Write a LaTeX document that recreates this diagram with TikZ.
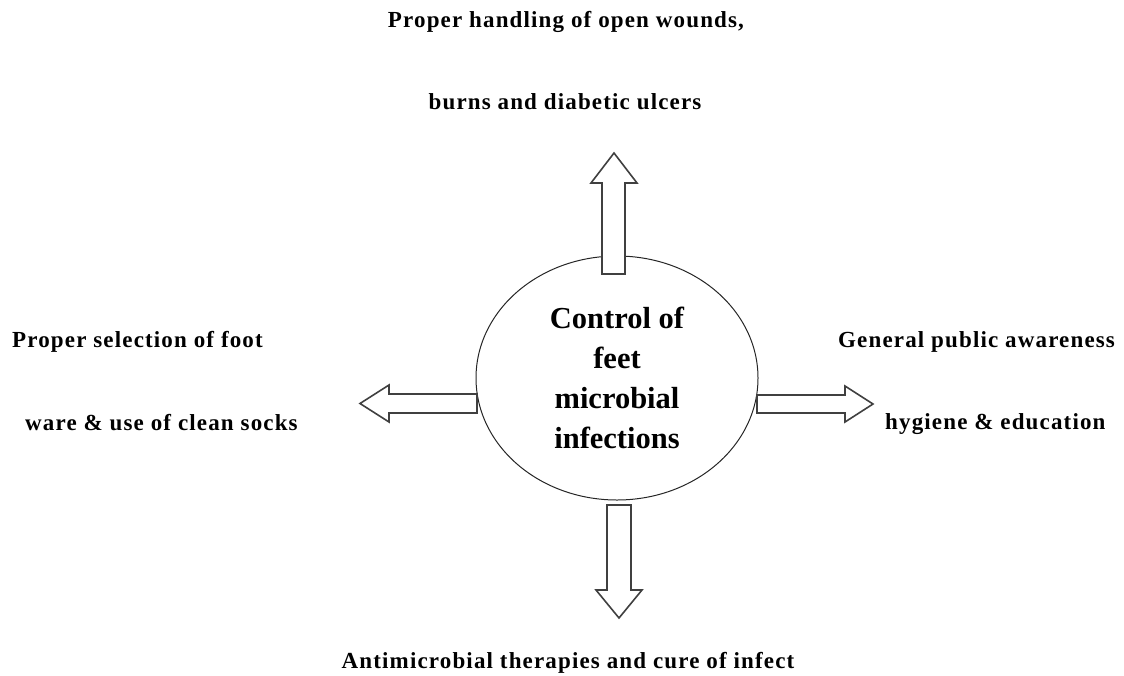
\documentclass[tikz,border=0pt]{standalone}
\usepackage{fontspec}
\setmainfont{Liberation Serif}
\newfontfamily\lblfont{Liberation Serif}[LetterSpace=5]
\begin{document}
\begin{tikzpicture}[x=1pt,y=-1pt,
  lbl/.style={font=\lblfont\fontsize{23}{27}\selectfont\bfseries, inner sep=0pt},
  blockarrow/.style={draw=black!75, fill=white, line width=1.6pt, line join=miter}]
\useasboundingbox (0,0) rectangle (1124,675);
\draw[draw=black!85, line width=1pt] (617,378) ellipse [x radius=141, y radius=122];
\node[inner sep=0pt] (hub) at (617,378) {};
% up arrow
\draw[blockarrow] (602,274) -- (602,183) -- (591,183) -- (614,153) -- (637,183) -- (625,183) -- (625,274) -- cycle;
% down arrow
\draw[blockarrow] (607,505) -- (607,590) -- (596,590) -- (619,618) -- (642,590) -- (631,590) -- (631,505) -- cycle;
% left arrow
\draw[blockarrow] (477,394) -- (389,394) -- (389,385) -- (360,403.5) -- (389,422) -- (389,413) -- (477,413) -- cycle;
% right arrow
\draw[blockarrow] (757,395) -- (845,395) -- (845,386) -- (873,404) -- (845,422) -- (845,413) -- (757,413) -- cycle;
% centre text
\node[align=center, font=\fontsize{30.5}{40}\selectfont\bfseries, inner sep=0pt] (ctext) at (617,378) {Control of\\feet\\microbial\\infections};
% labels
\node[lbl] (t1) at (566,22) {Proper handling of open wounds,};
\node[lbl] (t2) at (565,102) {burns and diabetic ulcers};
\node[lbl, anchor=west] (l1) at (12,342) {Proper selection of foot};
\node[lbl, anchor=west] (l2) at (25,423) {ware \& use of clean socks};
\node[lbl, anchor=west] (r1) at (838,342) {General public awareness};
\node[lbl, anchor=west] (r2) at (885,424) {hygiene \& education};
\node[lbl] (b1) at (568,663) {Antimicrobial therapies and cure of infect};
\end{tikzpicture}
\end{document}
